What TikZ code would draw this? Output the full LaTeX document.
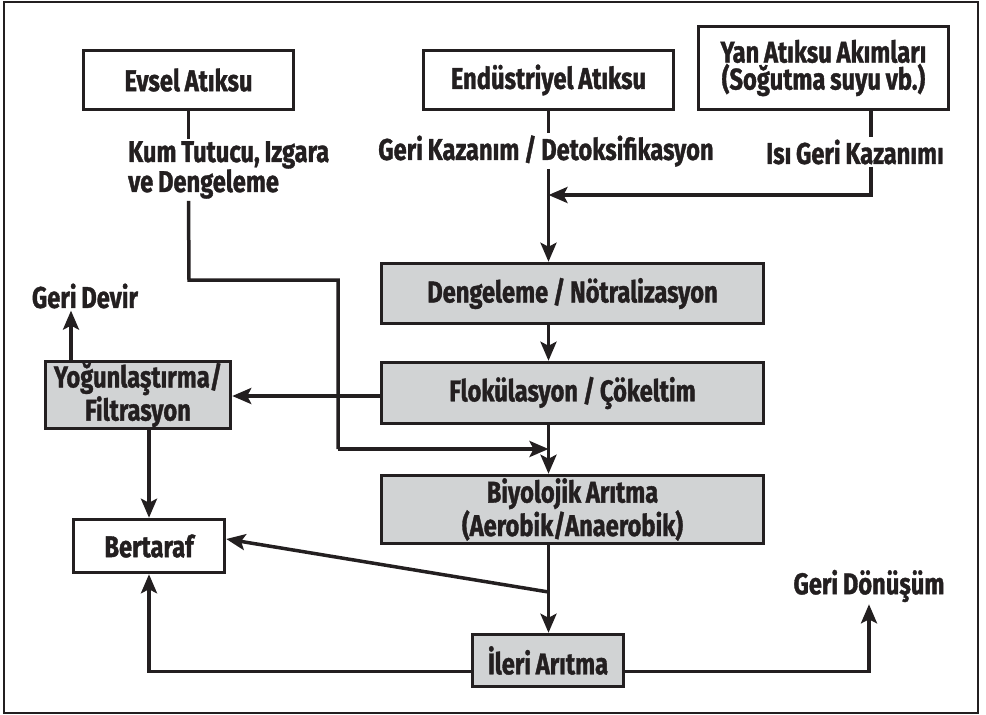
\documentclass[tikz,border=0pt]{standalone}
\usepackage{fontspec}
\setsansfont{Fira Sans}[FakeStretch=0.79, FakeBold=1.2, WordSpace=0.85]
\usetikzlibrary{arrows.meta,calc}
\definecolor{ink}{HTML}{231F20}
\definecolor{boxgray}{HTML}{D1D3D4}
\begin{document}
\begin{tikzpicture}[x=1pt,y=-1pt,
  every node/.style={font=\sffamily\bfseries\fontsize{30}{30}\selectfont, text=ink},
  wbox/.style={draw=ink, line width=3.5pt, fill=white, inner sep=0pt, align=center},
  gbox/.style={wbox, fill=boxgray},
  lbl/.style={inner sep=2pt, align=center},
  conn/.style={draw=ink, line width=3.5pt},
  arr/.style={conn, -{Stealth[length=19pt,width=16pt,inset=4pt]}}
]
\useasboundingbox (0,0) rectangle (986,715);
\draw[ink, line width=2.8pt] (4,2) rectangle (978,713);

% source streams
\node[wbox, minimum width=210pt, minimum height=59pt] (evsel) at (188.5,80) {Evsel Atıksu};
\node[wbox, minimum width=250pt, minimum height=59pt] (endus) at (548.5,80) {Endüstriyel Atıksu};
\node[wbox, minimum width=250pt, minimum height=83pt,
      font=\sffamily\bfseries\fontsize{30}{27}\selectfont] (yan) at (823.5,68) {Yan Atıksu Akımları\\(Soğutma suyu vb.)};

% pre-treatment labels
\node[lbl, align=left, anchor=north west] (kum) at (126,139) {Kum Tutucu, Izgara\\ve Dengeleme};
\node[lbl] (geri) at (546,151) {Geri Kazanım / Detoksifikasyon};
\node[lbl] (isi) at (855,152) {Isı Geri Kazanımı};

% treatment train
\node[gbox, minimum width=382pt, minimum height=60pt] (deng) at (572.5,293.5) {Dengeleme / Nötralizasyon};
\node[gbox, minimum width=382pt, minimum height=61pt] (flok) at (572.5,393) {Flokülasyon / Çökeltim};
\node[gbox, minimum width=382pt, minimum height=68pt] (biyo) at (572.5,509.5) {Biyolojik Arıtma\\(Aerobik/Anaerobik)};
\node[gbox, minimum width=151pt, minimum height=52pt] (ileri) at (548,660.5) {İleri Arıtma};

% sludge side
\node[gbox, minimum width=185pt, minimum height=67pt] (yog) at (138,395) {Yoğunlaştırma/\\Filtrasyon};
\node[wbox, minimum width=151pt, minimum height=53pt] (bert) at (149,546) {Bertaraf};
\node[lbl] (devir) at (85,296) {Geri Devir};
\node[lbl] (donus) at (869,586) {Geri Dönüşüm};

% helper coordinates
\coordinate (main) at (548.5,0);
\coordinate (yanx) at (871,0);
\coordinate (join) at (548.5,195);
\coordinate (bend1) at (189,280);
\coordinate (bend2) at (338,280);
\coordinate (bioin) at (548.5,449);
\coordinate (devx) at (71,0);
\coordinate (split) at (548.5,592);

% domestic line
\draw[conn] (evsel.south) -- (evsel.south |- kum.north);
\draw[conn] (evsel.south |- kum.south) -- (bend1) -- (bend2) -- (bend2 |- bioin);
\draw[arr] (bend2 |- bioin) -- (bioin);

% industrial line
\draw[conn] (endus.south) -- (endus.south |- geri.north);
\draw[arr] (endus.south |- geri.south) -- (main |- deng.north);

% side stream line
\draw[conn] (yanx |- yan.south) -- (yanx |- isi.north);
\draw[arr] (yanx |- isi.south) |- (join);

% main train
\draw[arr] (main |- deng.south) -- (main |- flok.north);
\draw[arr] (main |- flok.south) -- (main |- biyo.north);
\draw[arr] (main |- biyo.south) -- (main |- ileri.north);

% sludge handling
\draw[arr] (flok.west |- 0,396) -- (yog.east |- 0,396);
\draw[arr] (devx |- yog.north) -- (devx |- devir.south);
\draw[arr] (yog.south -| bert.north) -- (bert.north);
\draw[arr] (split) -- ([yshift=7pt]bert.east);
\draw[arr] ([yshift=-11pt]ileri.west) -| (bert.south);
\draw[arr] ([yshift=-11pt]ileri.east) -| (donus.south);
\end{tikzpicture}
\end{document}
